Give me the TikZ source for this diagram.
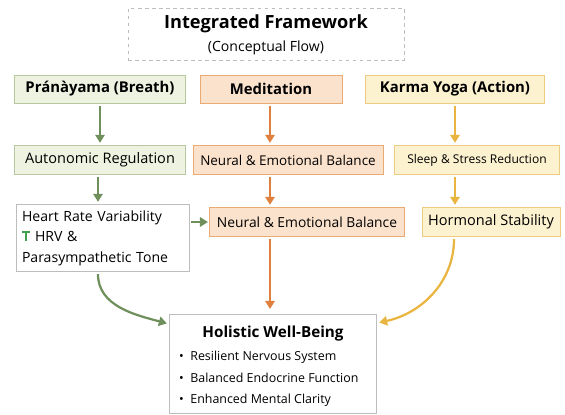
\documentclass[tikz,border=0pt]{standalone}
\usepackage{fontspec}
\setmainfont{Open Sans}
\usetikzlibrary{arrows.meta,positioning}

\definecolor{grnfill}{HTML}{EEF2E1}
\definecolor{grnline}{HTML}{B9C79F}
\definecolor{grnarrow}{HTML}{6F8F5C}
\definecolor{grnicon}{HTML}{3FA34D}
\definecolor{orgfill}{HTML}{FBE2CC}
\definecolor{orgline}{HTML}{EBAA72}
\definecolor{orgarrow}{HTML}{E0803E}
\definecolor{ylwfill}{HTML}{FDF2D0}
\definecolor{ylwline}{HTML}{EDCB80}
\definecolor{ylwarrow}{HTML}{E9B43F}
\definecolor{boxline}{HTML}{BDBDBD}

% small green tack in front of HRV
\newcommand{\uptack}{\leavevmode{\color{grnicon}\rlap{\rule[1.1ex]{0.6em}{0.26ex}}\hspace{0.22em}\rule[0.15ex]{0.16em}{1.05ex}\hspace{0.22em}}}

\begin{document}
\begin{tikzpicture}[
      x=0.03cm, y=-0.03cm,
      font=\fontsize{12.4}{15}\selectfont,
      box/.style={draw, line width=0.6pt, align=center, inner sep=2pt},
      pbox/.style={box, fill=grnfill, draw=grnline},
      mbox/.style={box, fill=orgfill, draw=orgline},
      kbox/.style={box, fill=ylwfill, draw=ylwline},
      arrow/.style={-{Triangle[length=2.4mm,width=2.8mm]}, line width=1.9pt, shorten <=2pt, shorten >=2pt}
    ]
    \useasboundingbox (0,0) rectangle (565,414);
    \node[box, draw=boxline, dashed, minimum width=276*0.03cm, minimum height=52*0.03cm] (title) at (266,34) {};
    \node[font=\fontsize{15.5}{18}\bfseries] (titletext) at (266,24) {Integrated Framework};
    \node[font=\fontsize{12}{14}\selectfont] (subtitle) at (266,47.5) {(Conceptual Flow)};

    % three practices
    \node[pbox, minimum width=171*0.03cm, minimum height=28*0.03cm, font=\fontsize{12.7}{15}\bfseries] (prana) at (100,89) {Pránàyama (Breath)};
    \node[mbox, minimum width=142*0.03cm, minimum height=28*0.03cm, font=\fontsize{12.7}{15}\bfseries] (medit) at (271,89) {Meditation};
    \node[kbox, minimum width=179*0.03cm, minimum height=28*0.03cm, font=\fontsize{12.7}{15}\bfseries] (karma) at (455,89) {Karma Yoga (Action)};

    % first effects
    \node[pbox, minimum width=171*0.03cm, minimum height=29*0.03cm] (auto) at (100,160) {Autonomic Regulation};
    \node[mbox, minimum width=190*0.03cm, minimum height=29*0.03cm, font=\fontsize{11.5}{14}\selectfont] (neural) at (288,160) {Neural \& Emotional Balance};
    \node[kbox, minimum width=165*0.03cm, minimum height=29*0.03cm, font=\fontsize{10.3}{12}\selectfont] (sleep) at (477,160) {Sleep \& Stress Reduction};

    % second effects
    \node[box, draw=boxline, fill=white, minimum width=173*0.03cm, minimum height=67*0.03cm, align=left, text width=162*0.03cm, font=\fontsize{12}{17.4}\selectfont] (hrv) at (103,238)
      {Heart Rate Variability\\\uptack{} HRV \&\\Parasympathetic Tone};
    \node[mbox, minimum width=195*0.03cm, minimum height=29*0.03cm, font=\fontsize{11.8}{14}\selectfont] (neuraltwo) at (307,222) {Neural \& Emotional Balance};
    \node[kbox, minimum width=138*0.03cm, minimum height=29*0.03cm] (hormone) at (491,222) {Hormonal Stability};

    % outcome
    \node[box, draw=boxline, fill=white, minimum width=207*0.03cm, minimum height=99*0.03cm] (holistic) at (273,363.5) {};
    \node[font=\fontsize{13}{15}\bfseries] (holtitle) at (273,333.5) {Holistic Well-Being};
    \node[align=left, anchor=north west, inner sep=0pt, font=\fontsize{10.6}{18.3}\selectfont] (points) at (179,351)
      {\textbullet\ \ Resilient Nervous System\\\textbullet\ \ Balanced Endocrine Function\\\textbullet\ \ Enhanced Mental Clarity};

    % breath column
    \draw[arrow, grnarrow] (prana) -- (auto);
    \draw[arrow, grnarrow] (auto.south -| 98,0) -- (hrv.north -| 98,0);
    \draw[arrow, grnarrow, shorten <=1pt, shorten >=1pt] (hrv.east |- neuraltwo) -- (neuraltwo.west);
    \draw[arrow, grnarrow] (hrv.south -| 98,0) to[out=-90, in=165] (holistic.west |- 0,324);

    % meditation column
    \draw[arrow, orgarrow] (medit.south -| 270,0) -- (neural.north -| 270,0);
    \draw[arrow, orgarrow] (neural.south -| 270,0) -- (neuraltwo.north -| 270,0);
    \draw[arrow, orgarrow, shorten >=4pt] (neuraltwo.south -| 270,0) -- (holistic.north -| 270,0);

    % action column
    \draw[arrow, ylwarrow] (karma.south -| 455,0) -- (sleep.north -| 455,0);
    \draw[arrow, ylwarrow] (sleep.south -| 455,0) -- (hormone.north -| 455,0);
    \draw[arrow, ylwarrow] (hormone.south -| 454,0) to[out=-90, in=12] (holistic.east |- 0,323);
\end{tikzpicture}
\end{document}
